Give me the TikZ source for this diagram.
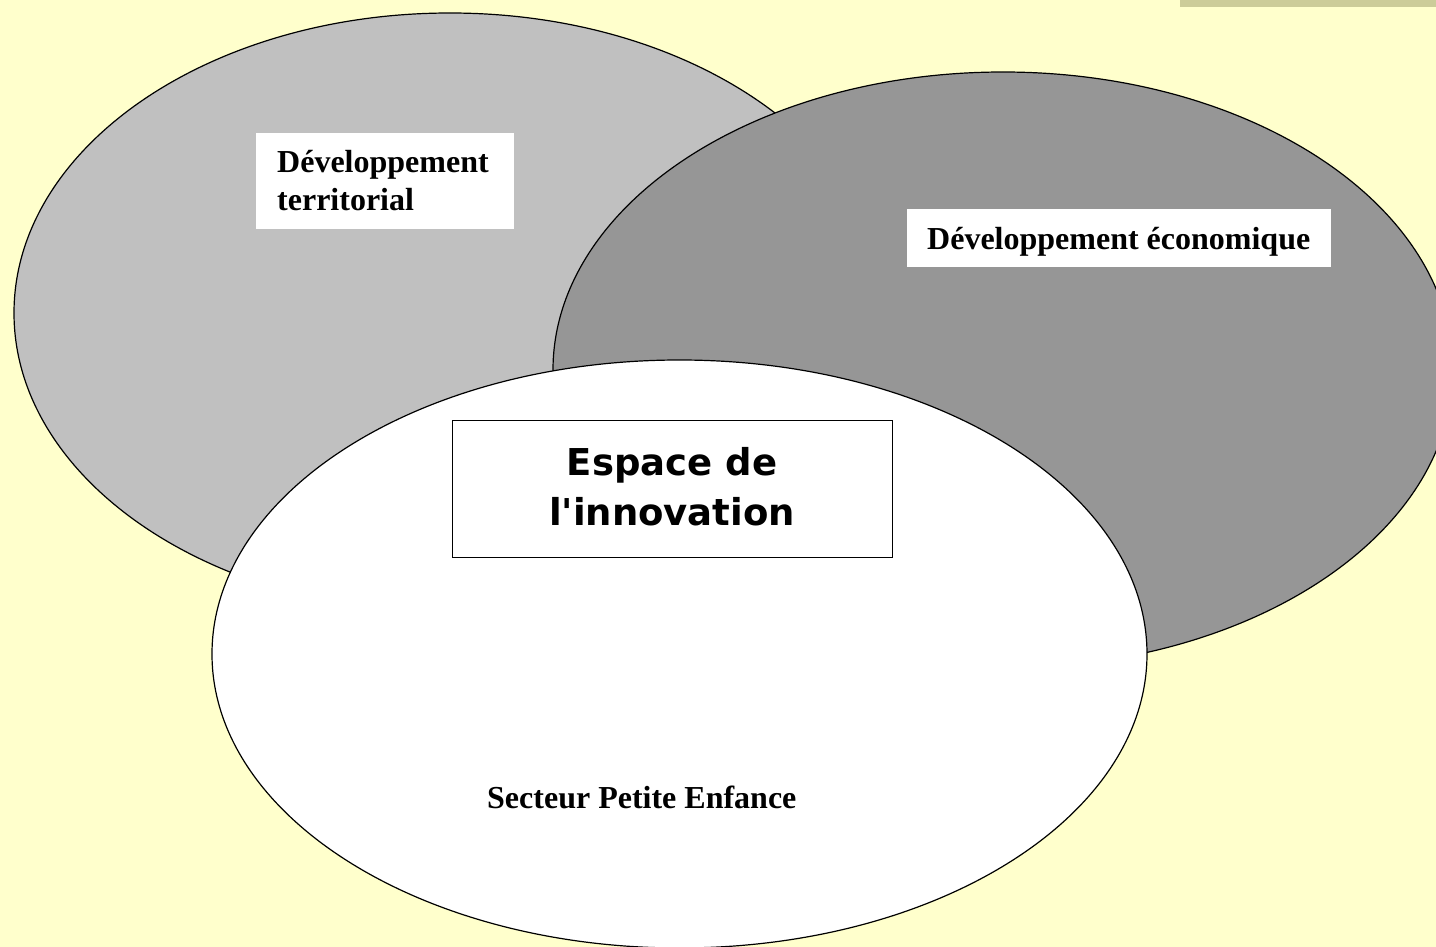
\documentclass[tikz,border=0pt]{standalone}
\usepackage{fontspec}
\setmainfont{Liberation Serif}
\newfontfamily\dejavu{DejaVu Sans}
\usetikzlibrary{shapes.geometric}
\definecolor{bgyellow}{HTML}{FFFFCC}
\definecolor{barcol}{HTML}{CCCC99}
\definecolor{lightgrey}{HTML}{C0C0C0}
\definecolor{darkgrey}{HTML}{969696}
\tikzset{
  blob/.style={ellipse, draw=black, line width=1.2pt, inner sep=0pt},
  label/.style={inner sep=0pt, font=\fontsize{32}{38}\selectfont\bfseries, anchor=base west},
  whitebox/.style={fill=white, inner sep=0pt, anchor=north west},
  bigtext/.style={inner sep=0pt, font=\dejavu\fontsize{37}{44}\selectfont\bfseries, anchor=base}
}
\begin{document}
\begin{tikzpicture}[x=1pt,y=-1pt]
\useasboundingbox (0,0) rectangle (1436,947);
\clip (0,0) rectangle (1436,947);
\fill[bgyellow] (0,0) rectangle (1436,947);
\fill[barcol] (1180,0) rectangle (1436,7);
% ellipses
\node[blob, fill=lightgrey, minimum width=872pt, minimum height=600pt] (terr) at (450,313) {};
\node[blob, fill=darkgrey, minimum width=900pt, minimum height=596pt] (eco) at (1003,370) {};
\node[blob, fill=white, minimum width=935pt, minimum height=588pt] (enf) at (679.5,654) {};
% box territorial
\node[whitebox, minimum width=258pt, minimum height=96pt] (b1) at (256,133) {};
\node[label] (t1a) at (277,173) {Développement};
\node[label] (t1b) at (277,211) {territorial};
% box economique
\node[whitebox, minimum width=424pt, minimum height=58pt] (b2) at (907,209) {};
\node[label] (t2) at (927,249) {Développement économique};
% box innovation
\node[fill=white, draw=black, line width=1.3pt, inner sep=0pt, anchor=north west, minimum width=440pt, minimum height=137pt] (b3) at (452,420) {};
\node[bigtext] (t3a) at (672,475) {Espace de};
\node[bigtext] (t3b) at (672,525) {l'innovation};
% secteur
\node[label] (t4) at (487,808) {Secteur Petite Enfance};
\end{tikzpicture}
\end{document}
